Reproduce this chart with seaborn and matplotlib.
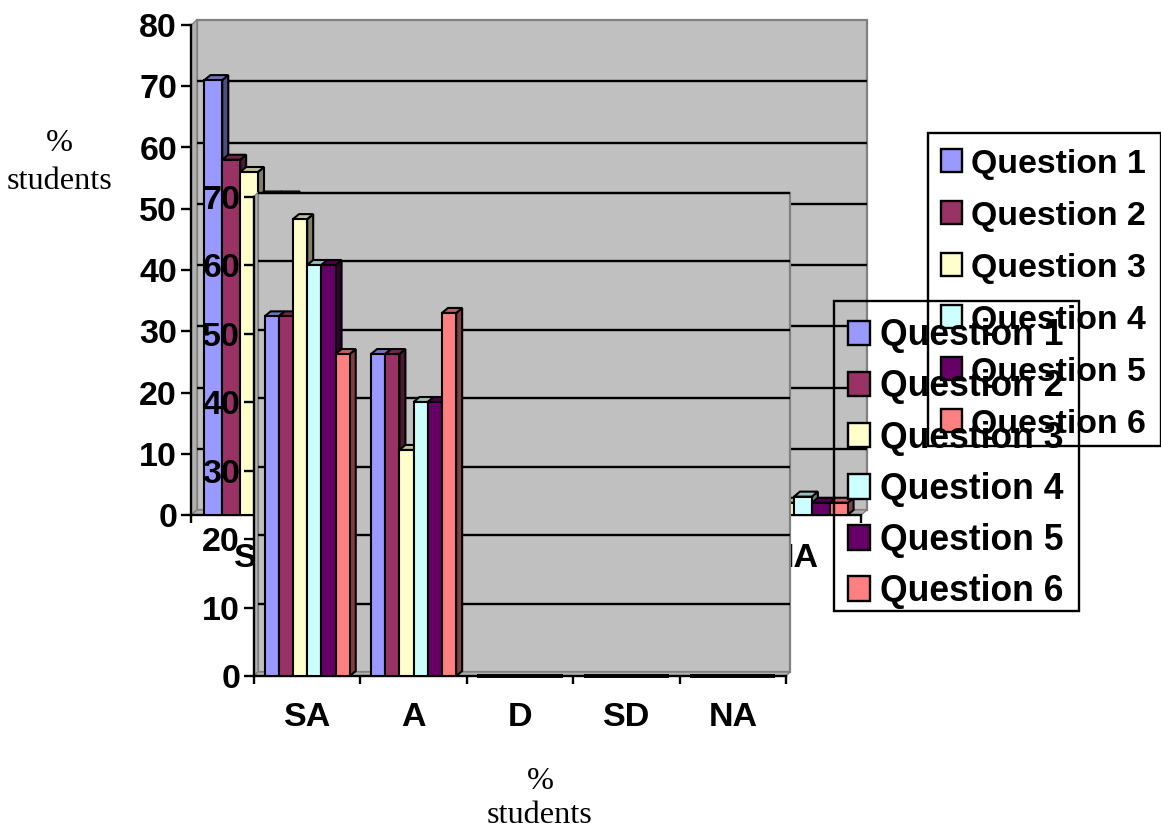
import matplotlib
matplotlib.use('Agg')
import matplotlib.pyplot as plt
import pandas as pd
import seaborn as sns
from matplotlib.patches import Patch, Polygon, Rectangle
from matplotlib.transforms import Affine2D, IdentityTransform

categories = ['SA', 'A', 'D', 'SD', 'NA']
questions = ['Question 1', 'Question 2', 'Question 3', 'Question 4', 'Question 5', 'Question 6']
colors = ['#9999FF', '#993366', '#FFFFCC', '#CCFFFF', '#660066', '#FF8080']

# back chart (most of it is hidden behind the front one)
back_q1 = [71, 25, 2, 0, 0]
back_q2 = [58, 30, 4, 0, 0]
back_q3 = [56, 32, 5, 0, 2]
back_q4 = [52, 35, 3, 0, 3]
back_q5 = [52, 38, 2, 0, 2]
back_q6 = [44, 45, 3, 0, 2]

# front chart
front_q1 = [52.5, 47, 0, 0, 0]
front_q2 = [52.5, 47, 0, 0, 0]
front_q3 = [66.7, 33, 0, 0, 0]
front_q4 = [60, 40, 0, 0, 0]
front_q5 = [60, 40, 0, 0, 0]
front_q6 = [47, 53, 0, 0, 0]

W, H = 1161, 827
sns.set_style('white')
plt.rcParams['font.family'] = ['Liberation Sans']
plt.rcParams['font.weight'] = 'bold'
plt.rcParams['text.color'] = 'black'
plt.rcParams['xtick.color'] = 'black'
plt.rcParams['ytick.color'] = 'black'
plt.rcParams['xtick.labelcolor'] = 'black'
plt.rcParams['ytick.labelcolor'] = 'black'

fig = plt.figure(figsize=(W / 100, H / 100), dpi=100)


def table(rows):
    df = pd.DataFrame(dict(zip(questions, rows)), index=categories)
    df = df.reset_index(names='answer')
    return df.melt(id_vars='answer', var_name='question', value_name='pct')


def wall(ax, top, dx, dy):
    shift = ax.transData + Affine2D().translate(dx, dy)
    x0, y0 = ax.transData.transform((-0.5, 0))
    x1, y1 = ax.transData.transform((4.5, top))
    ax.add_patch(Rectangle((-0.5, 0), 5, top, transform=shift, fc='#C0C0C0', ec='#808080',
                           lw=1.6, zorder=1, clip_on=False))
    for pts in ([(x0, y0), (x0, y1), (x0 + dx, y1 + dy), (x0 + dx, y0 + dy)],
                [(x0, y0), (x0 + dx, y0 + dy), (x1 + dx, y0 + dy), (x1, y0)]):
        ax.add_patch(Polygon(pts, transform=IdentityTransform(), fc='#B0B0B0', ec='#808080',
                             lw=1, zorder=1.1, clip_on=False))
    ax.hlines(range(10, int(top) + (1 if top < 80 else 0), 10), -0.5, 4.5, transform=shift, color='black', lw=1.7,
              zorder=1.5, clip_on=False)


def bars_3d(ax, dx, dy):
    for i, cont in enumerate(ax.containers):
        for b in cont:
            b.set_zorder(3 + i + 0.5)
            if b.get_height() <= 0:
                # empty bars only leave a thick line on the floor
                ax.hlines(0, b.get_x(), b.get_x() + b.get_width(), color='black', lw=2.8,
                          zorder=3, clip_on=False)
                continue
            x0, y0 = ax.transData.transform((b.get_x(), b.get_y()))
            x1, y1 = ax.transData.transform((b.get_x() + b.get_width(), b.get_height()))
            c = b.get_facecolor()
            side = tuple(v * 0.5 for v in c[:3])
            topc = tuple(v * 0.75 for v in c[:3])
            ax.add_patch(Polygon([(x1, y0), (x1 + dx, y0 + dy), (x1 + dx, y1 + dy), (x1, y1)],
                                 transform=IdentityTransform(), fc=side, ec='black', lw=1.5,
                                 zorder=3 + i, clip_on=False))
            ax.add_patch(Polygon([(x0, y1), (x0 + dx, y1 + dy), (x1 + dx, y1 + dy), (x1, y1)],
                                 transform=IdentityTransform(), fc=topc, ec='black', lw=1.5,
                                 zorder=3 + i, clip_on=False))


def chart(rect, rows, top, dx, dy, fs, xpad, z):
    left, ytop, w, h = rect
    ax = fig.add_axes([left / W, 1 - (ytop + h) / H, w / W, h / H], zorder=z)
    ax.patch.set_visible(False)
    sns.barplot(data=table(rows), x='answer', y='pct', hue='question', hue_order=questions,
                palette=colors, saturation=1, width=0.8, edgecolor='black', linewidth=1.5,
                errorbar=None, legend=False, ax=ax)
    ax.set_xlim(-0.5, 4.5)
    ax.set_ylim(0, top)
    ax.set_xlabel('')
    ax.set_ylabel('')
    wall(ax, top, dx, dy)
    bars_3d(ax, 6, 5)
    for s in ['top', 'right']:
        ax.spines[s].set_visible(False)
    for s in ['left', 'bottom']:
        ax.spines[s].set_linewidth(1.7)
        ax.spines[s].set_color('black')
    ax.set_yticks(range(0, top + 1, 10))
    ax.set_xticks([i - 0.5 for i in range(6)])
    ax.set_xticklabels([])
    ax.set_xticks(range(5), minor=True)
    ax.set_xticklabels(categories, minor=True)
    ax.tick_params(axis='y', length=7, width=1.7, pad=3, labelsize=fs, left=True)
    ax.tick_params(axis='x', which='major', length=6, width=1.7, bottom=True)
    ax.tick_params(axis='x', which='minor', length=0, pad=xpad, labelsize=fs)
    return ax


back = chart((191, 25, 670, 490), [back_q1, back_q2, back_q3, back_q4, back_q5, back_q6],
             80, 6, 5, 24.5, 20, 1)
front = chart((254, 196.5, 532, 479.5), [front_q1, front_q2, front_q3, front_q4, front_q5, front_q6],
              70, 4, 4, 24.5, 19, 2)

handles = [Patch(fc=c, ec='black', lw=1.7) for c in colors]


def legend(ax, box, fs, space, pad):
    x0, y0, x1, y1 = box
    # frame drawn apart, the legend's own one comes out too tall
    ax.add_patch(Rectangle((x0 / W, 1 - y1 / H), (x1 - x0) / W, (y1 - y0) / H, transform=fig.transFigure,
                           fc='none', ec='black', lw=1.7, zorder=19, clip_on=False))
    leg = ax.legend(handles, questions, loc='upper left', mode='expand', ncol=1,
                    bbox_to_anchor=((x0 - 3) / W, 1 - y1 / H, (x1 - x0) / W, (y1 - y0) / H),
                    bbox_transform=fig.transFigure, borderaxespad=0, borderpad=pad, fontsize=fs,
                    labelspacing=space, handlelength=0.62, handleheight=0.68, handletextpad=0.28,
                    frameon=False)
    leg.set_zorder(20)


legend(back, (928, 133, 1161, 446), 24.4, 0.62, 0.46)
legend(front, (834, 301, 1079, 611), 25.6, 0.455, 0.485)

serif = ['Liberation Serif']
fig.text(59 / W, 1 - 162.5 / H, '%\nstudents', family=serif, weight='normal', fontsize=23.2,
         ha='center', va='center', linespacing=1.38)
fig.text(540 / W, 1 - 798.5 / H, '%\nstudents', family=serif, weight='normal', fontsize=23.2,
         ha='center', va='center', linespacing=1.25)

fig.savefig('out.png', dpi=100)
